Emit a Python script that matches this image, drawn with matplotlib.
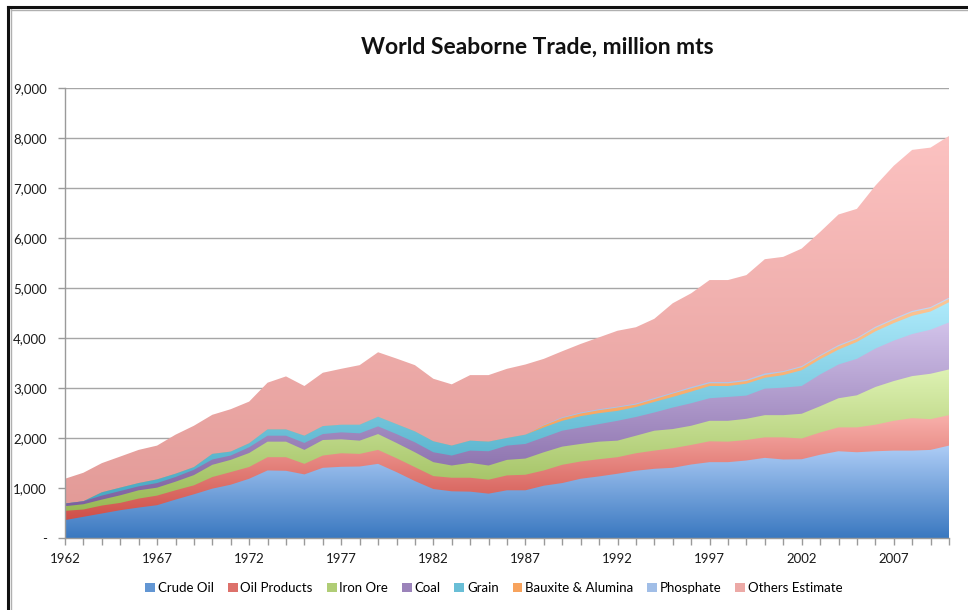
import numpy as np
import matplotlib
matplotlib.use("Agg")
import matplotlib.pyplot as plt
from matplotlib.colors import LinearSegmentedColormap
from matplotlib.patches import Patch
from matplotlib.lines import Line2D
import matplotlib.ticker as mticker

plt.rcParams['font.family'] = ['Lato', 'DejaVu Sans']

years = list(range(1962, 2011))

crude_oil = [358, 424, 490, 556, 609, 656, 768, 874, 987, 1066,
             1185, 1351, 1344, 1272, 1404, 1424, 1430, 1483, 1318, 1139,
             980, 934, 927, 887, 954, 954, 1046, 1099, 1185, 1232,
             1285, 1345, 1384, 1404, 1470, 1517, 1517, 1550, 1603, 1570,
             1575, 1665, 1735, 1715, 1735, 1748, 1748, 1762, 1848]
oil_products = [185, 146, 159, 146, 179, 192, 186, 179, 232, 252,
                235, 265, 272, 211, 245, 271, 252, 279, 278, 278,
                258, 271, 278, 279, 298, 311, 305, 365, 345, 344,
                331, 350, 364, 391, 391, 417, 410, 410, 410, 443,
                415, 445, 477, 497, 530, 596, 649, 615, 609]
iron_ore = [93, 105, 119, 152, 166, 159, 172, 205, 245, 245,
            280, 311, 311, 279, 311, 279, 265, 317, 305, 298,
            279, 245, 298, 284, 311, 324, 364, 364, 351, 351,
            331, 351, 398, 384, 384, 410, 417, 424, 444, 444,
            495, 525, 583, 642, 755, 795, 841, 908, 914]
coal = [53, 60, 80, 86, 79, 92, 93, 106, 106, 86,
        115, 119, 119, 139, 119, 139, 146, 153, 178, 199,
        198, 199, 245, 285, 285, 292, 298, 318, 331, 351,
        397, 374, 364, 430, 450, 451, 477, 464, 530, 550,
        555, 635, 675, 729, 768, 808, 841, 881, 940]
grain = [0, 0, 66, 67, 66, 73, 66, 53, 112, 79,
         79, 126, 126, 145, 159, 152, 172, 192, 199, 218,
         219, 199, 199, 192, 152, 185, 199, 198, 225, 219,
         199, 200, 212, 212, 232, 245, 219, 238, 218, 251,
         315, 306, 298, 338, 344, 351, 365, 364, 404]
bauxite = [0, 0, 0, 0, 0, 0, 0, 0, 0, 0,
           0, 0, 0, 0, 0, 0, 0, 0, 0, 0,
           0, 0, 0, 0, 0, 0, 40, 53, 53, 59,
           66, 48, 53, 66, 66, 53, 53, 53, 53, 60,
           60, 60, 66, 59, 67, 66, 73, 66, 66]
phosphate = [0, 0, 0, 0, 0, 0, 0, 0, 0, 0,
             0, 0, 0, 0, 0, 0, 0, 0, 0, 0,
             0, 0, 0, 0, 0, 0, 12, 18, 20, 20,
             20, 21, 26, 20, 27, 26, 26, 27, 33, 20,
             25, 24, 26, 25, 26, 26, 26, 24, 27]
others = [496, 570, 583, 622, 663, 676, 781, 828, 782, 848,
          834, 934, 1060, 994, 1067, 1119, 1192, 1291, 1311, 1325,
          1251, 1225, 1311, 1331, 1384, 1404, 1319, 1320, 1371, 1437,
          1516, 1526, 1583, 1788, 1874, 2040, 2040, 2092, 2285, 2285,
          2348, 2460, 2610, 2578, 2821, 3054, 3219, 3188, 3232]

labels = ["Crude Oil", "Oil Products", "Iron Ore", "Coal", "Grain",
          "Bauxite & Alumina", "Phosphate", "Others Estimate"]
# (light top, dark bottom) pairs for the Excel-style gradients
shades = [("#aecdf6", "#3a78c0"),
          ("#f8b0ab", "#cf4f48"),
          ("#def2b3", "#98b955"),
          ("#d2c3ea", "#7d60a0"),
          ("#aeeafb", "#44a7c2"),
          ("#fcc595", "#f5913f"),
          ("#c3d7f4", "#8fb0e0"),
          ("#fcc2c1", "#e39b98")]

series = [crude_oil, oil_products, iron_ore, coal, grain, bauxite, phosphate, others]

x = np.array(years, dtype=float)
stack = np.cumsum(np.array(series, dtype=float), axis=0)
bottoms = np.vstack([np.zeros(len(years)), stack[:-1]])

fig = plt.figure(figsize=(9.68, 6.10), dpi=100)
ax = fig.add_axes([65 / 968, 1 - 538 / 610, (949 - 65) / 968, (538 - 88) / 610])

grad = np.linspace(0, 1, 256).reshape(-1, 1)
# paint from the top layer down, each from zero, so lower layers cover any seams
for i in range(len(series) - 1, -1, -1):
    lo, hi = bottoms[i], stack[i]
    top_c, bot_c = shades[i]
    poly = ax.fill_between(x, 0, hi, facecolor='none', edgecolor='none', linewidth=0)
    y0 = 0 if i == 0 else lo.min()
    y1 = hi.max()
    if y1 - y0 < 1:
        continue
    cmap = LinearSegmentedColormap.from_list(labels[i], [bot_c, top_c])
    im = ax.imshow(grad, cmap=cmap, origin='lower', aspect='auto',
                   extent=[x[0], x[-1], y0, y1], interpolation='bilinear', zorder=2)
    im.set_clip_path(poly.get_paths()[0], transform=ax.transData)

ax.set_xlim(1962, 2010)
ax.set_ylim(0, 9000)

ax.yaxis.set_major_locator(mticker.MultipleLocator(1000))
ax.yaxis.set_major_formatter(mticker.FuncFormatter(lambda v, p: "-" if v == 0 else f"{v:,.0f}"))
ax.xaxis.set_major_locator(mticker.FixedLocator(range(1962, 2011, 5)))
ax.xaxis.set_minor_locator(mticker.MultipleLocator(1))
ax.xaxis.set_major_formatter(mticker.FuncFormatter(lambda v, p: f"{int(v)}"))

ax.grid(axis='y', color='#a6a6a6', linewidth=1.0, zorder=0)
ax.set_axisbelow(True)
for side in ('top', 'right'):
    ax.spines[side].set_visible(False)
for side in ('left', 'bottom'):
    ax.spines[side].set_color('#9a9a9a')
    ax.spines[side].set_linewidth(1.0)
    ax.spines[side].set_zorder(3)

ax.tick_params(axis='both', which='both', direction='out', color='#9a9a9a',
               length=5, width=1, labelsize=9.5, labelcolor='#1a1a1a')
ax.tick_params(axis='y', pad=8)
ax.tick_params(axis='x', pad=6)

fig.text(0.555, 1 - 47 / 610, "World Seaborne Trade, million mts",
         ha='center', va='center', fontsize=16.5, fontweight='bold', color='#111111')

handles = [Patch(facecolor=LinearSegmentedColormap.from_list('m', [shades[i][1], shades[i][0]])(0.35),
                 edgecolor='none', label=labels[i]) for i in range(len(labels))]
fig.legend(handles=handles, loc='center', bbox_to_anchor=(494 / 968, 1 - 588 / 610),
           ncol=8, frameon=False, fontsize=9.5, handlelength=0.75, handleheight=0.75,
           handletextpad=0.2, columnspacing=1.05)

# page frame along the top and left edges
fig.add_artist(Line2D([8 / 968, 8 / 968], [0, 1 - 7 / 610], color='#111111', lw=2.2))
fig.add_artist(Line2D([10.5 / 968, 10.5 / 968], [0, 1 - 9 / 610], color='#b0b0b0', lw=1.0))
fig.add_artist(Line2D([8 / 968, 1], [1 - 7 / 610, 1 - 7 / 610], color='#111111', lw=2.2))
fig.add_artist(Line2D([10.5 / 968, 1], [1 - 9.5 / 610, 1 - 9.5 / 610], color='#b0b0b0', lw=1.0))

fig.savefig("out.png", dpi=100)
